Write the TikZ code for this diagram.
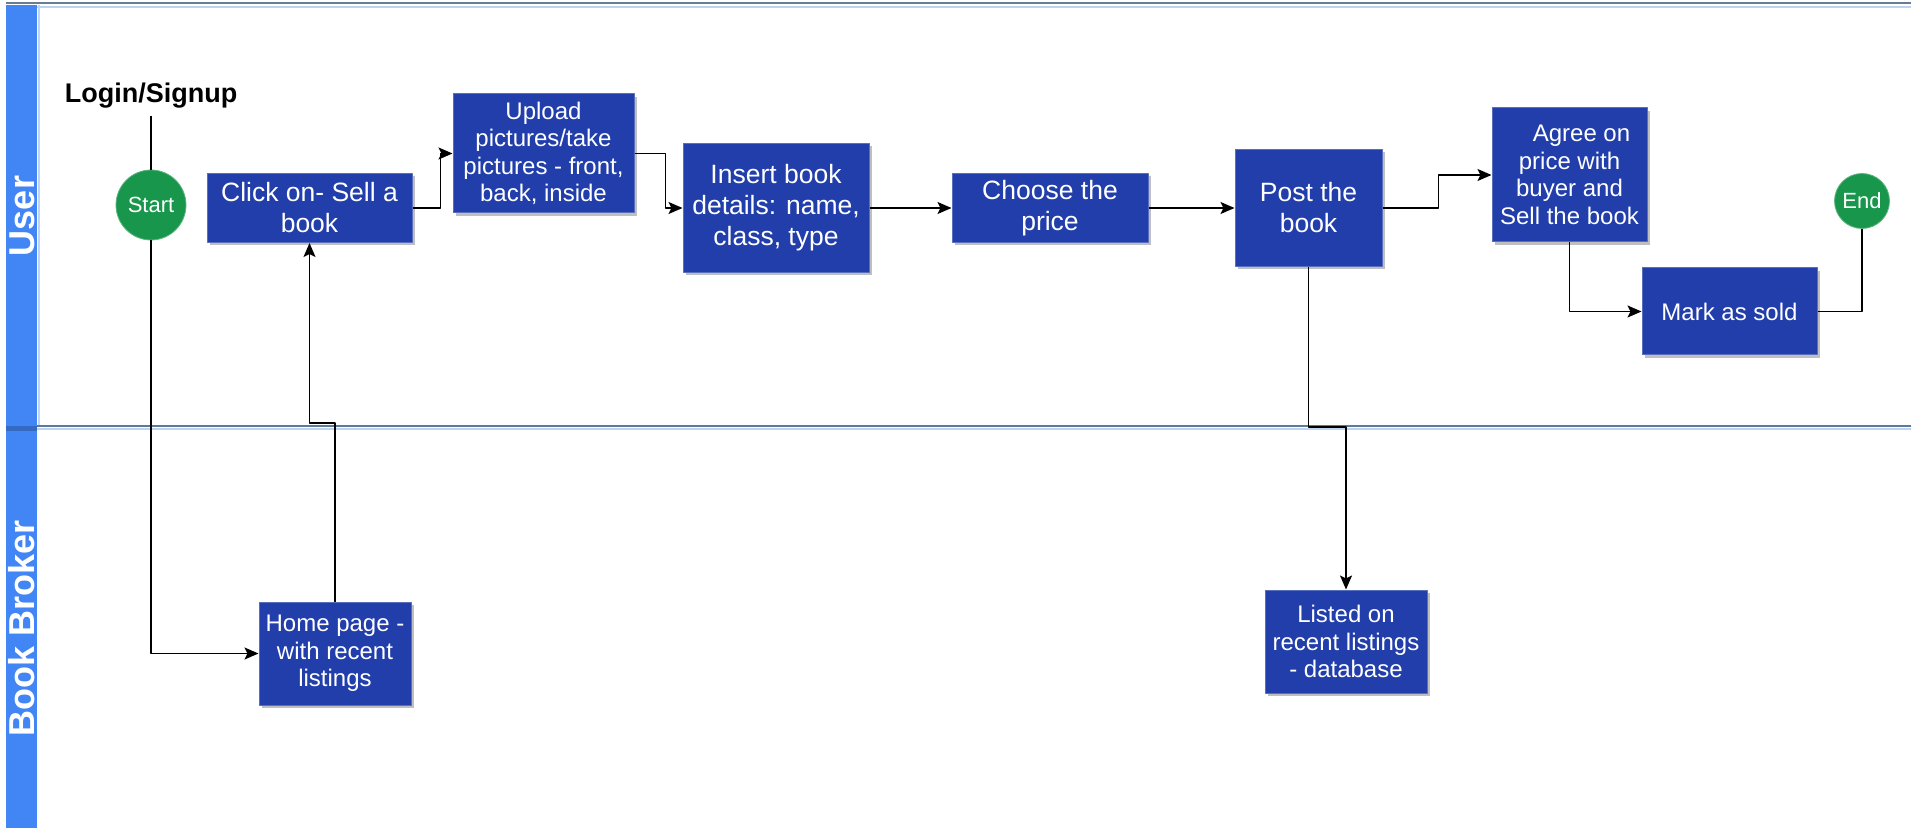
\documentclass[tikz,border=0pt]{standalone}
\usepackage{fontspec}
\setmainfont{Liberation Sans}
\usetikzlibrary{arrows.meta,shadows}
\definecolor{boxblue}{RGB}{33,62,170}
\definecolor{laneblue}{RGB}{66,133,244}
\definecolor{termgreen}{RGB}{24,150,76}
\definecolor{laneline}{RGB}{92,122,158}
\definecolor{lanelight}{RGB}{190,212,236}
\begin{document}
\begin{tikzpicture}[x=0.5pt, y=-0.5pt, line join=round, >={Stealth[length=7pt,width=6pt,inset=1.5pt]},
    box/.style={rectangle, fill=boxblue, draw=boxblue!75!white, line width=0.5pt, text=white, align=center, inner sep=2pt,
        drop shadow={shadow xshift=1.5pt, shadow yshift=-1.5pt, fill=black, opacity=.25}},
    big/.style={font=\fontsize{13.25}{15.5}\selectfont},
    small/.style={font=\fontsize{12}{13.75}\selectfont},
    term/.style={circle, fill=termgreen, draw=termgreen!70!white, text=white, inner sep=0pt, font=\fontsize{11}{13}\selectfont},
    lanelabel/.style={rotate=90, text=white, font=\bfseries\fontsize{18}{20}\selectfont},
    flow/.style={line width=0.8pt, ->}]
    \def\laney{427} \def\rowy{208} % lane divider, main row
    \useasboundingbox (0,0) rectangle (1911,828);
    % swimlanes
    \fill[laneblue] (6,5) rectangle (37,\laney);
    \fill[laneblue] (6,\laney) rectangle (37,828);
    \fill[laneblue!80!black] (6,\laney-1) rectangle (37,\laney+4);
    \draw[laneblue!35!white, line width=1pt] (38.5,5) -- (38.5,\laney);
    \draw[laneline!70!gray, line width=1pt] (6,3.5) -- (1911,3.5);
    \draw[lanelight, line width=1pt] (37,7) -- (1911,7);
    \draw[laneline, line width=1pt] (37,\laney-1) -- (1911,\laney-1);
    \draw[lanelight, line width=1pt] (37,\laney+2.5) -- (1911,\laney+2.5);
    \node[lanelabel] (user) at (22,216) {User};
    \node[lanelabel] (broker) at (22,628) {Book Broker};
    % steps
    \node[font=\bfseries\fontsize{13.5}{16}\selectfont] (login) at (151,96) {Login/Signup};
    \node[term, minimum size=35pt] (start) at (151,205) {Start};
    \node[box, big, minimum width=102.5pt, minimum height=34.5pt] (click) at (309.5,\rowy) {Click on- Sell a\\book};
    \node[box, small, minimum width=90.5pt, minimum height=59.5pt] (upload) at (543.5,153.5) {Upload\\pictures/take\\pictures - front,\\back, inside};
    \node[box, big, minimum width=93pt, minimum height=64.5pt] (insert) at (776,\rowy) {Insert book\\details: name,\\class, type};
    \node[box, big, minimum width=98pt, minimum height=34.5pt] (choose) at (1050,\rowy) {Choose the\\price};
    \node[box, big, minimum width=73.5pt, minimum height=58.5pt] (post) at (1308.5,\rowy) {Post the\\book};
    \node[box, small, minimum width=77.5pt, minimum height=67pt] (agree) at (1569.5,175) {\hspace*{1em}Agree on\\price with\\buyer and\\Sell the book};
    \node[box, small, minimum width=87.5pt, minimum height=43.5pt] (mark) at (1729.5,311.5) {Mark as sold};
    \node[term, minimum size=27.5pt] (end) at (1862,201) {End};
    \node[box, small, minimum width=76pt, minimum height=51.5pt] (home) at (335,653.5) {Home page -\\with recent\\listings};
    \node[box, small, minimum width=81pt, minimum height=51.5pt] (listed) at (1346,641.5) {Listed on\\recent listings\\- database};
    % connectors
    \draw[line width=0.8pt] (login) -- (start);
    \draw[flow] (start) |- (home);
    \draw[flow] (home.north) -- (home.north |- 0,\laney-4) -| (click.south);
    \draw[flow] (click.east) -- ++(28,0) |- (upload.west);
    \draw[flow] (upload.east) -- ++(31,0) |- (insert.west);
    \draw[flow] (insert) -- (choose);
    \draw[flow] (choose) -- (post);
    \draw[flow] (post.east) -- ++(56,0) |- (agree.west);
    \draw[flow] (agree.south) |- (mark.west);
    \draw[line width=0.8pt] (mark.east) -| (end.south);
    \draw[flow] (post.south) -- (post.south |- 0,\laney) -| (listed.north);
\end{tikzpicture}
\end{document}
